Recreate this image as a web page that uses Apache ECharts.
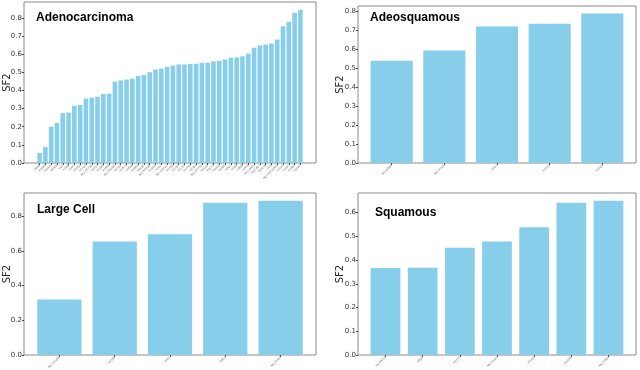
<!DOCTYPE html>
<html>
<head>
<meta charset="utf-8">
<script src="https://cdn.jsdelivr.net/npm/echarts@6/dist/echarts.min.js"></script>
<style>
  html, body { margin: 0; padding: 0; background: #fff; }
  #main { width: 640px; height: 370px; }
</style>
</head>
<body>
<div id="main"></div>
<script>
// cell lines per subtype, sorted by SF2
var adenoNames = ['A549', 'H1299', 'H1975', 'H2009', 'H23', 'H358', 'H441', 'H1650', 'H1437', 'NCI-H1792',
    'H2122', 'H1395', 'H1568', 'NCI-H2087', 'H2126', 'H1573', 'H1838', 'H1944', 'H2030', 'NCI-H2228',
    'H2291', 'H322', 'NCI-H3122', 'H1355', 'H1651', 'H1734', 'H1755', 'H1781', 'NCI-H1793', 'H2023',
    'H2073', 'H2342', 'H2405', 'H522', 'H650', 'H838', 'H969', 'HCC4006', 'HCC827', 'HCC78',
    'PC9', 'NCI-HCC2935', 'Calu3', 'Calu6', 'H1993', 'H2347'];
var adenoValues = [0.055, 0.088, 0.200, 0.220, 0.275, 0.278, 0.315, 0.320, 0.355, 0.360,
    0.365, 0.380, 0.382, 0.448, 0.455, 0.460, 0.465, 0.480, 0.485, 0.500,
    0.515, 0.520, 0.530, 0.537, 0.543, 0.543, 0.546, 0.547, 0.552, 0.553,
    0.560, 0.563, 0.570, 0.580, 0.582, 0.588, 0.603, 0.635, 0.648, 0.653,
    0.658, 0.680, 0.753, 0.778, 0.827, 0.845];

var adeosqNames = ['NCI-H596', 'NCI-H125', 'H647', 'H1573', 'H2126'];
var adeosqValues = [0.540, 0.593, 0.720, 0.735, 0.789];

var largeNames = ['NCI-H1299', 'H1155', 'H661', 'H810', 'NCI-H460'];
var largeValues = [0.320, 0.655, 0.697, 0.878, 0.890];

var squamNames = ['SK-MES1', 'H520', 'H2170', 'NCI-H226', 'H1703', 'HCC95', 'NCI-H596'];
var squamValues = [0.367, 0.368, 0.452, 0.478, 0.538, 0.641, 0.650];

var panels = [
    { title: 'Adenocarcinoma', names: adenoNames, values: adenoValues, interval: 0.1, box: [24, 2, 292, 161], titleAt: [36, 12], gap: 12 },
    { title: 'Adeosquamous', names: adeosqNames, values: adeosqValues, interval: 0.1, box: [358, 6, 278, 157], titleAt: [370, 12], gap: 13 },
    { title: 'Large Cell', names: largeNames, values: largeValues, interval: 0.2, box: [24, 193, 292, 162], titleAt: [37, 204], gap: 12 },
    { title: 'Squamous', names: squamNames, values: squamValues, interval: 0.1, box: [358, 193, 278, 162], titleAt: [375, 207], gap: 13 }
];

var myChart = echarts.init(document.getElementById('main'));

var grids = [], xAxes = [], yAxes = [], series = [], titles = [];

panels.forEach(function (p, i) {
    var n = p.names.length;
    // matplotlib style x margins around the bars
    var span = n - 1 + 0.8;
    var lim = span * 1.1;
    var m = p.box[2] * (0.05 * span - 0.1) / lim;
    var vmax = Math.max.apply(null, p.values) * 1.05;

    // frame
    grids.push({
        left: p.box[0], top: p.box[1], width: p.box[2], height: p.box[3],
        show: true, borderColor: '#8a8a8a', borderWidth: 1, backgroundColor: 'transparent',
        outerBoundsMode: 'none'
    });
    xAxes.push({ gridIndex: 2 * i, type: 'value', show: false });
    yAxes.push({ gridIndex: 2 * i, type: 'value', show: false });

    // data
    grids.push({
        left: p.box[0] + m, top: p.box[1], width: p.box[2] - 2 * m, height: p.box[3],
        outerBoundsMode: 'none'
    });
    xAxes.push({
        gridIndex: 2 * i + 1,
        type: 'category',
        data: p.names,
        axisLine: { show: false },
        axisTick: { show: true, alignWithLabel: true, length: 2, lineStyle: { color: '#555' } },
        axisLabel: { interval: 0, rotate: 45, fontSize: 3, color: '#666', margin: 2 }
    });
    yAxes.push({
        gridIndex: 2 * i + 1,
        type: 'value',
        min: 0,
        max: vmax,
        interval: p.interval,
        offset: m,
        name: 'SF2',
        nameLocation: 'middle',
        nameGap: p.gap,
        nameMoveOverlap: false,
        nameTextStyle: { fontSize: 10, color: '#222', fontFamily: 'DejaVu Sans' },
        axisLine: { show: false },
        axisTick: { show: true, length: 2, lineStyle: { color: '#444' } },
        axisLabel: {
            fontSize: 7, color: '#333', margin: 2, fontFamily: 'DejaVu Sans',
            showMaxLabel: false,
            formatter: function (v) { return v.toFixed(1); }
        },
        splitLine: { show: false }
    });

    series.push({
        type: 'bar',
        xAxisIndex: 2 * i + 1,
        yAxisIndex: 2 * i + 1,
        data: p.values,
        barCategoryGap: '20%',
        itemStyle: { color: '#87ceeb' },
        silent: true
    });

    titles.push({
        text: p.title,
        left: p.titleAt[0],
        top: p.titleAt[1],
        padding: 0,
        textStyle: { fontSize: 12, fontWeight: 'bold', color: '#000', fontFamily: 'Liberation Sans' }
    });
});

myChart.setOption({
    animation: false,
    title: titles,
    grid: grids,
    xAxis: xAxes,
    yAxis: yAxes,
    series: series
});
</script>
</body>
</html>
